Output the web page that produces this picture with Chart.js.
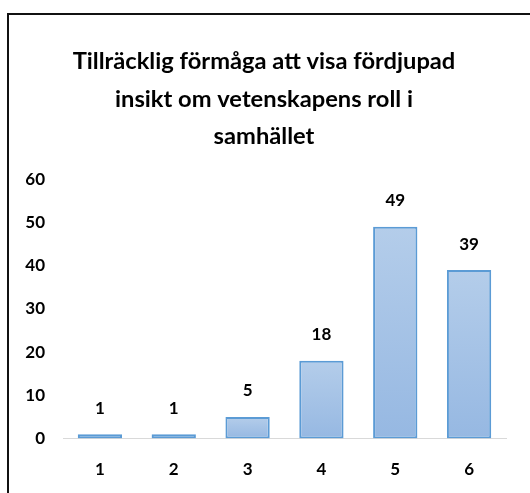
<!DOCTYPE html>
<html>
<head>
<meta charset="utf-8">
<script src="https://cdn.jsdelivr.net/npm/chart.js@4.4.1/dist/chart.umd.min.js"></script>
<style>
  html, body { margin: 0; padding: 0; background: #fff; overflow: hidden; }
  #wrap { position: relative; width: 530px; height: 493px; }
  #frame {
    position: absolute; left: 7px; top: 13px; width: 600px; height: 600px;
    border-left: 2px solid #111; border-top: 2px solid #111;
    pointer-events: none;
  }
  canvas { position: absolute; left: 0; top: 0; }
</style>
</head>
<body>
<div id="wrap">
  <div id="frame"></div>
  <canvas id="myChart" width="530" height="493"></canvas>
</div>
<script>
// chart data
const titleLines = ["Tillräcklig förmåga att visa fördjupad", "insikt om vetenskapens roll i", "samhället"];
const categories = ["1", "2", "3", "4", "5", "6"];
const counts = [1, 1, 5, 18, 49, 39];
const yTicks = [0, 10, 20, 30, 40, 50, 60];

const fontFamily = "Lato, 'Open Sans', 'DejaVu Sans', sans-serif";

// vertical gradient per bar, light at the top
function barFill(context) {
    let chart = context.chart;
    if (!chart.chartArea || !chart.scales.y) return "#a5c3e6";
    let yScale = chart.scales.y;
    let top = yScale.getPixelForValue(context.raw);
    let bottom = yScale.getPixelForValue(0);
    if (!isFinite(top) || top == bottom) return "#a5c3e6";
    let grad = chart.ctx.createLinearGradient(0, top, 0, bottom);
    grad.addColorStop(0, "#b4cdea");
    grad.addColorStop(1, "#96b8e2");
    return grad;
};

// value labels above the bars
const valueLabels = {
    id: "valueLabels",
    afterDatasetsDraw(chart) {
        let ctx = chart.ctx;
        let meta = chart.getDatasetMeta(0);
        ctx.save();
        ctx.font = "bold 17px " + fontFamily;
        ctx.fillStyle = "#000";
        ctx.textAlign = "center";
        ctx.textBaseline = "middle";
        meta.data.forEach(function (bar, i) {
            ctx.fillText(String(counts[i]), bar.x, bar.y - 26);
        });
        ctx.restore();
    }
};

let ctx = document.getElementById("myChart").getContext("2d");
new Chart(ctx, {
    type: "bar",
    data: {
        labels: categories,
        datasets: [{
            data: counts,
            backgroundColor: barFill,
            borderColor: "#5b9bd5",
            borderWidth: 2,
            borderSkipped: false,
            categoryPercentage: 1.0,
            barPercentage: 0.6
        }]
    },
    options: {
        responsive: false,
        animation: false,
        layout: {
            padding: { top: 24, right: 24, left: 22, bottom: -8 }
        },
        plugins: {
            legend: { display: false },
            tooltip: { enabled: false },
            title: {
                display: true,
                text: titleLines,
                color: "#000",
                font: { family: fontFamily, size: 23.7, weight: "bold", lineHeight: 1.58 },
                padding: { top: 19, bottom: 24 }
            }
        },
        scales: {
            x: {
                grid: { display: false, drawTicks: false },
                border: { display: true, color: "#d9d9d9", width: 1 },
                ticks: {
                    color: "#000",
                    padding: 21,
                    font: { family: fontFamily, size: 17, weight: "bold" }
                }
            },
            y: {
                min: 0,
                max: 60,
                afterBuildTicks(scale) {
                    scale.ticks = yTicks.map(v => ({ value: v }));
                },
                afterFit(scale) {
                    scale.width = 41;
                },
                grid: { display: false, drawTicks: false },
                border: { display: false },
                ticks: {
                    color: "#000",
                    padding: 18,
                    font: { family: fontFamily, size: 17, weight: "bold" }
                }
            }
        }
    },
    plugins: [valueLabels]
});
</script>
</body>
</html>
